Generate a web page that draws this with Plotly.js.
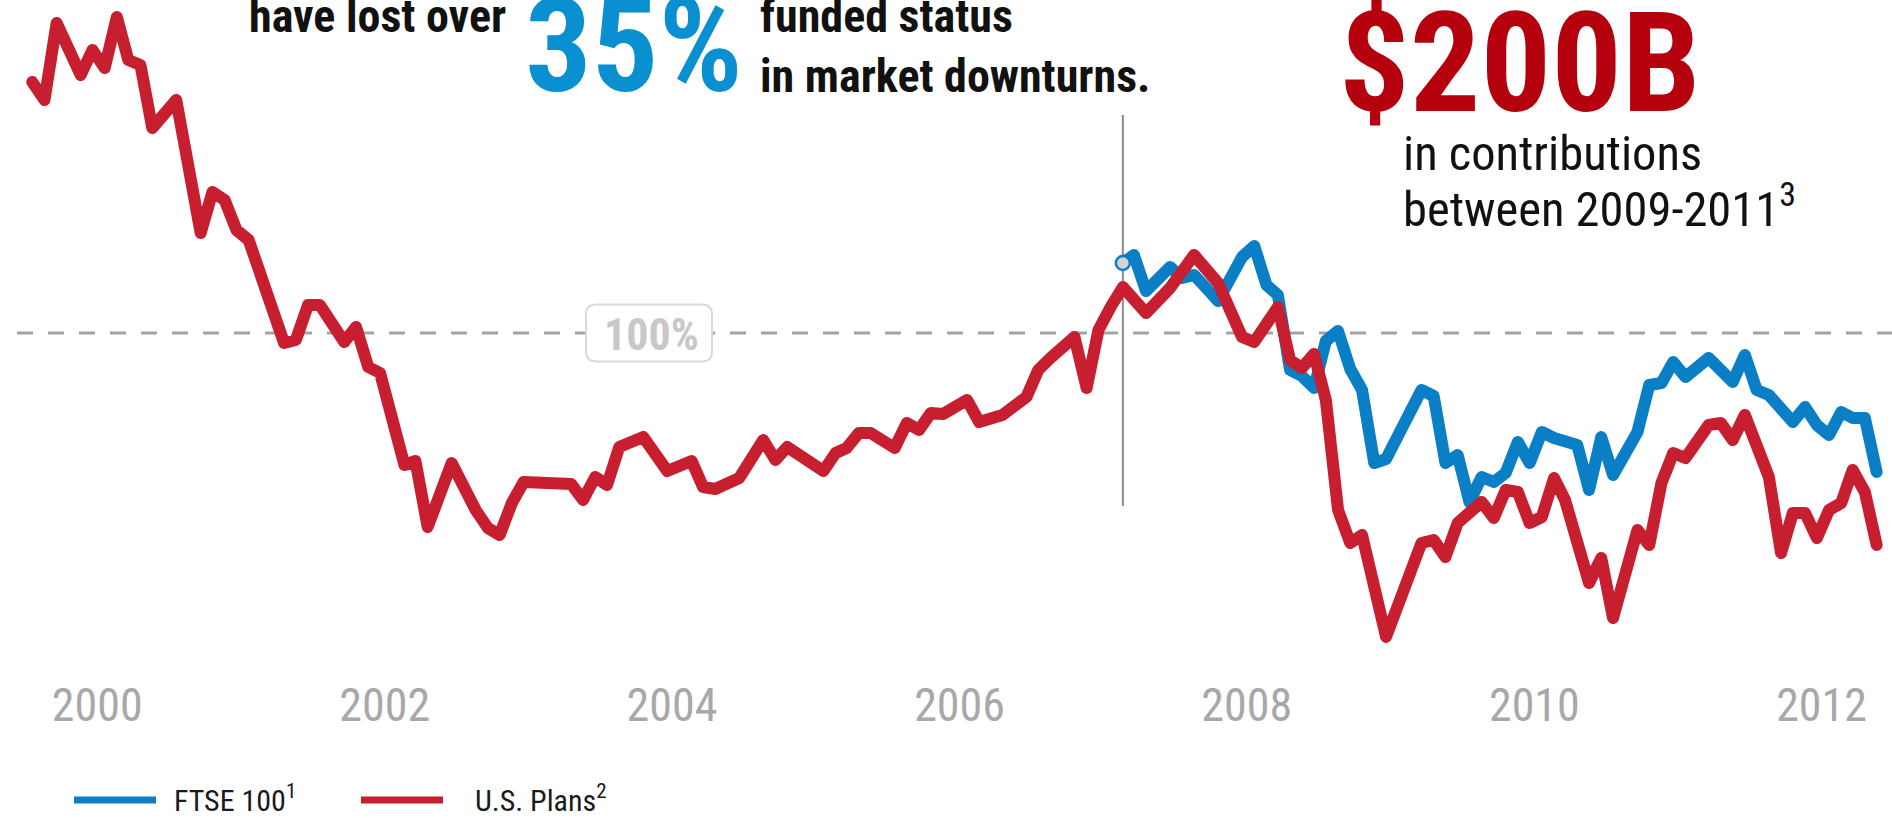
<!DOCTYPE html>
<html>
<head>
<meta charset="utf-8">
<script src="https://cdn.plot.ly/plotly-3.0.1.min.js"></script>
<style>
html,body{margin:0;padding:0;background:#fff;overflow:hidden}
#chart{width:1892px;height:818px}
.js-line{stroke-linejoin:round;stroke-linecap:round}
</style>
</head>
<body>
<div id="chart"></div>
<script>
// ---------------- DATA ----------------
// U.S. Plans funded status (%), month points
const usDates = [
  '1999-07-20','1999-08-20','1999-09-20','1999-11-20','1999-12-20',
  '2000-01-20','2000-02-20','2000-03-20','2000-04-20','2000-05-20','2000-07-20','2000-09-20','2000-10-20','2000-11-20','2000-12-20',
  '2001-01-20','2001-04-20','2001-05-20','2001-06-20','2001-07-20','2001-09-20','2001-10-20','2001-11-20','2001-12-20',
  '2002-02-20','2002-03-20','2002-04-20','2002-06-20','2002-08-20','2002-09-20','2002-10-20','2002-11-20','2002-12-20',
  '2003-04-20','2003-05-20','2003-06-20','2003-07-20','2003-08-20','2003-10-20','2003-12-20',
  '2004-02-20','2004-03-20','2004-04-20','2004-05-20','2004-06-20','2004-08-20','2004-09-20','2004-10-20',
  '2005-01-20','2005-02-20','2005-03-20','2005-04-20','2005-05-20','2005-07-20','2005-08-20','2005-09-20','2005-10-20','2005-11-20',
  '2006-01-20','2006-02-20','2006-03-20','2006-04-20','2006-06-20','2006-07-20','2006-08-20','2006-09-20','2006-10-20','2006-11-20','2006-12-20',
  '2007-01-20','2007-02-20','2007-04-20','2007-06-20','2007-08-20','2007-10-20','2007-12-20',
  '2008-01-20','2008-03-20','2008-04-20','2008-05-20','2008-06-20','2008-07-20','2008-08-20','2008-09-20','2008-10-20','2008-12-20',
  '2009-03-20','2009-04-20','2009-05-20','2009-06-20','2009-07-20','2009-08-20','2009-09-20','2009-10-20','2009-11-20','2009-12-20',
  '2010-01-20','2010-02-20','2010-03-20','2010-05-20','2010-06-20','2010-07-20','2010-09-20','2010-10-20','2010-11-20','2010-12-20',
  '2011-01-20','2011-03-20','2011-04-20','2011-05-20','2011-06-20','2011-08-20','2011-09-20','2011-10-20','2011-11-20','2011-12-20',
  '2012-01-20','2012-02-20','2012-03-20','2012-04-20','2012-05-20'
];
const usPlans = [
  125.1,123.3,131.0,125.8,128.3,
  126.5,131.6,127.3,126.8,120.5,123.3,110.0,114.1,113.3,110.3,
  109.3,99.0,99.3,102.8,102.8,99.1,100.6,96.6,96.0,
  86.8,87.2,80.6,87.0,82.3,80.5,79.8,83.0,85.1,
  84.9,83.3,85.6,84.8,88.6,89.6,86.2,
  87.2,84.6,84.4,84.8,85.5,89.3,87.3,88.6,
  86.2,88.0,88.5,90.0,90.0,88.5,91.0,90.3,92.0,91.9,
  93.3,91.1,91.3,91.8,93.6,96.3,97.5,98.5,99.6,94.5,100.3,
  102.6,104.6,102.0,104.5,107.8,105.0,99.6,
  99.1,102.6,97.3,96.5,97.9,93.3,82.3,79.0,79.8,69.6,
  79.0,79.3,77.6,81.0,82.0,83.1,81.5,84.3,84.1,81.0,
  81.6,85.5,83.3,75.0,77.5,71.5,80.3,78.8,85.0,88.0,
  87.5,90.8,91.0,89.3,91.8,85.6,78.0,82.0,82.0,79.5,
  82.3,83.0,86.3,84.1,78.8
];
// FTSE 100 funded status (%)
const ftseDates = [
  '2007-02-20','2007-03-20','2007-04-20','2007-06-20','2007-07-20','2007-08-20','2007-09-20','2007-10-20','2007-12-20',
  '2008-01-20','2008-02-20','2008-03-20','2008-04-20','2008-05-20','2008-06-20','2008-07-20','2008-08-20','2008-09-20','2008-10-20','2008-11-20','2008-12-20',
  '2009-03-20','2009-04-20','2009-05-20','2009-06-20','2009-07-20','2009-08-20','2009-09-20','2009-10-20','2009-11-20','2009-12-20',
  '2010-01-20','2010-02-20','2010-04-20','2010-05-20','2010-06-20','2010-07-20','2010-09-20','2010-10-20','2010-11-20','2010-12-20',
  '2011-01-20','2011-03-20','2011-05-20','2011-06-20','2011-07-20','2011-08-20','2011-09-20','2011-10-20','2011-11-20','2011-12-20',
  '2012-01-20','2012-02-20','2012-03-20','2012-04-20','2012-05-20'
];
const ftse100 = [
  107.0,107.8,104.2,106.6,105.5,105.8,104.5,103.2,107.6,
  108.7,104.8,103.8,96.3,95.7,94.5,99.2,100.2,96.4,94.3,87.0,87.4,
  94.3,93.7,87.0,87.8,83.1,85.6,85.1,86.0,89.1,87.0,
  90.1,89.5,88.8,84.3,89.6,85.8,90.1,94.8,95.0,97.1,
  95.6,97.5,95.1,97.8,94.3,93.8,92.3,91.1,92.6,90.8,
  89.8,92.1,91.5,91.5,86.1
];
const tickYears = ['2000','2002','2004','2006','2008','2010','2012'];
const seriesNames = ['FTSE 100<sup>1</sup>', 'U.S. Plans<sup>2</sup>'];
const parLevel = 100;
const parLabel = '100%';

// ---------------- STYLE / LAYOUT ----------------
const W = 1892, H = 818, PLOT_H = 670;
const px = X => X / W;
const py = Y => 1 - Y / PLOT_H;
const FONT = '"Liberation Sans Narrow", "Arial Narrow", "Nimbus Sans Narrow", "Roboto Condensed", sans-serif';
const BLUE = '#0a7fc6', RED = '#c71f2f';
const DESC = 0.212;

function textAt(text, X, baseY, size, color, opts) {
  opts = opts || {};
  return {
    xref: 'paper', yref: 'paper',
    x: px(X), y: py(baseY + DESC * size),
    xanchor: opts.xanchor || 'left', yanchor: 'bottom',
    text: text, showarrow: false, align: 'left',
    borderpad: 0, borderwidth: 0,
    font: {family: FONT, size: size, color: color}
  };
}

const traces = [
  {x: ftseDates, y: ftse100, type: 'scatter', mode: 'lines', name: seriesNames[0],
   line: {color: BLUE, width: 12}, hoverinfo: 'x+y'},
  {x: usDates, y: usPlans, type: 'scatter', mode: 'lines', name: seriesNames[1],
   line: {color: RED, width: 12}, hoverinfo: 'x+y'},
  {x: [ftseDates[0]], y: [ftse100[0]], type: 'scatter', mode: 'markers', name: 'start',
   marker: {size: 14, color: '#d4d4d4', line: {color: BLUE, width: 2.5}}, hoverinfo: 'skip'}
];

const r = 10, bw = 63, bh = 28.5;
const boxPath = `M ${-bw + r},${-bh} L ${bw - r},${-bh} Q ${bw},${-bh} ${bw},${-bh + r} L ${bw},${bh - r} Q ${bw},${bh} ${bw - r},${bh} L ${-bw + r},${bh} Q ${-bw},${bh} ${-bw},${bh - r} L ${-bw},${-bh + r} Q ${-bw},${-bh} ${-bw + r},${-bh} Z`;

const shapes = [
  {type: 'line', xref: 'paper', yref: 'y', x0: px(17), x1: 1, y0: parLevel, y1: parLevel,
   line: {color: '#a3a3a3', width: 3, dash: '16px,15px'}, layer: 'below'},
  {type: 'line', xref: 'x', yref: 'y', x0: ftseDates[0], x1: ftseDates[0], y0: 82.7, y1: 121.8,
   line: {color: '#8c8c8c', width: 2}, layer: 'below'},
  {type: 'path', xref: 'paper', yref: 'y', xsizemode: 'pixel', ysizemode: 'pixel',
   xanchor: px(649), yanchor: parLevel, path: boxPath,
   fillcolor: '#ffffff', line: {color: '#dadada', width: 2}, layer: 'below'},
  // legend samples
  {type: 'line', xref: 'paper', yref: 'paper', x0: px(74), x1: px(156), y0: py(800), y1: py(800),
   line: {color: BLUE, width: 7}},
  {type: 'line', xref: 'paper', yref: 'paper', x0: px(361), x1: px(443), y0: py(800), y1: py(800),
   line: {color: RED, width: 7}}
];

const annotations = [
  textAt('<b>have lost over</b>', 249, 33, 46, '#111111'),
  textAt('<b>35%</b>', 525, 95, 132, '#0a8fd0'),
  textAt('<b>funded status</b>', 760, 33, 46, '#111111'),
  textAt('<b>in market downturns.</b>', 760, 93, 46, '#111111'),
  textAt('<b>$200B</b>', 1339, 115, 140, '#b5000e'),
  textAt('in contributions', 1403, 171.5, 48.5, '#111111'),
  textAt('between 2009-2011<sup>3</sup>', 1403, 228, 48.5, '#111111'),
  textAt('<b>' + parLabel + '</b>', 651, 352, 44, '#c8c8c8', {xanchor: 'center'}),
  textAt(seriesNames[0], 174, 812, 30, '#1a1a1a'),
  textAt(seriesNames[1], 475, 812, 30, '#1a1a1a')
];

const layout = {
  width: W, height: H,
  margin: {l: 0, r: 0, t: 0, b: H - PLOT_H, pad: 0},
  paper_bgcolor: '#ffffff', plot_bgcolor: '#ffffff',
  showlegend: false,
  font: {family: FONT},
  xaxis: {
    type: 'date', range: ['1999-04-29', '2012-06-28'],
    tickvals: tickYears.map(y => y + '-01-01'), ticktext: tickYears,
    showgrid: false, zeroline: false, showline: false, ticks: '',
    tickfont: {family: FONT, size: 46, color: '#a8a8a8'},
    ticklabelstandoff: 4,
    fixedrange: true
  },
  yaxis: {range: [100 - (PLOT_H - 333) / 10, 100 + 333 / 10], visible: false, fixedrange: true},
  shapes: shapes,
  annotations: annotations
};

Plotly.newPlot('chart', traces, layout, {displayModeBar: false, staticPlot: true});
</script>
</body>
</html>
